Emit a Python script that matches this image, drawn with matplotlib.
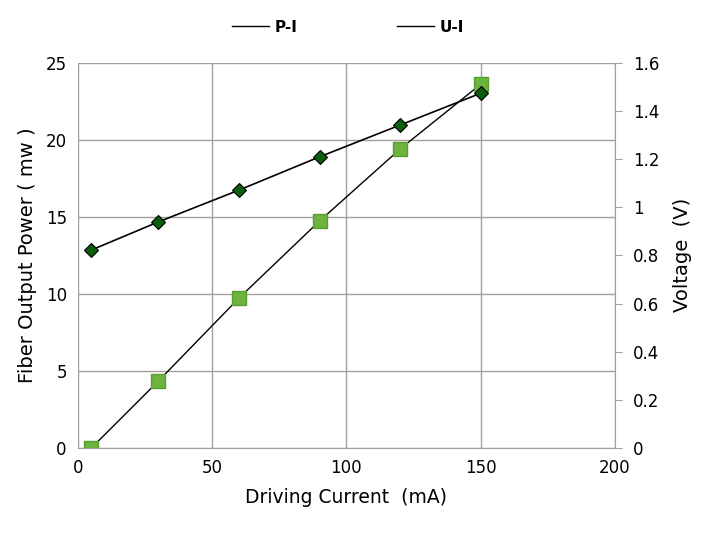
import matplotlib.pyplot as plt
from matplotlib.lines import Line2D

current = [5, 30, 60, 90, 120, 150]
power = [0, 4.35, 9.73, 14.73, 19.4, 23.6]
voltage = [0.822, 0.939, 1.071, 1.209, 1.341, 1.473]
series_names = ['P-I', 'U-I']

fig = plt.figure(figsize=(7.02, 5.42), dpi=100)
ax = fig.add_axes([0.111, 0.1734, 0.765, 0.711])
ax2 = ax.twinx()

grid_c = '#a0a0a0'

ax.plot(current, power, color='black', lw=1.0, marker='s', ms=10,
        mfc='#6cb33f', mec='#5a9e30', zorder=3)
ax2.plot(current, voltage, color='black', lw=1.2, marker='D', ms=7,
         mfc='#0b5e0b', mec='black', mew=0.8, zorder=3)

ax.set_xlim(0, 200)
ax.set_ylim(0, 25)
ax2.set_ylim(0, 1.6)
ax.set_xticks([0, 50, 100, 150, 200])
ax.set_yticks([0, 5, 10, 15, 20, 25])
ax2.set_yticks([0, 0.2, 0.4, 0.6, 0.8, 1.0, 1.2, 1.4, 1.6])
ax2.set_yticklabels(['0', '0.2', '0.4', '0.6', '0.8', '1', '1.2', '1.4', '1.6'])

ax.grid(True, color=grid_c, lw=1.0)
ax.set_axisbelow(True)
for a in (ax, ax2):
    for s in a.spines.values():
        s.set_visible(False)
ax2.spines['right'].set_visible(True)
ax2.spines['right'].set_color(grid_c)
ax2.spines['bottom'].set_visible(True)
ax2.spines['bottom'].set_color(grid_c)

ax.tick_params(axis='both', length=0, labelsize=12, pad=8)
ax2.tick_params(axis='y', length=5, color=grid_c, direction='out', labelsize=12, pad=8)

ax.set_xlabel('Driving Current  (mA)', fontsize=13.5, labelpad=8)
ax.set_ylabel('Fiber Output Power ( mw )', fontsize=14, labelpad=6)
ax2.set_ylabel('Voltage  (V)', fontsize=14, labelpad=10)

# legend: plain black lines only, as in the original
handles = [Line2D([], [], color='black', lw=1.0) for _ in series_names]
fig.legend(handles, series_names, loc='center', bbox_to_anchor=(0.496, 0.95),
           ncol=2, frameon=False, handlelength=2.4, handletextpad=0.4,
           columnspacing=6.5, prop={'weight': 'bold', 'size': 11})

fig.savefig('out.png', dpi=100)
